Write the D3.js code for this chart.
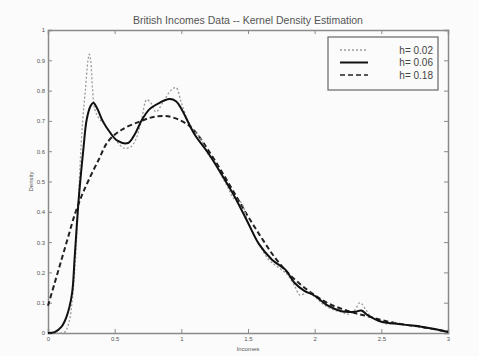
<!DOCTYPE html>
<html>
<head>
<meta charset="utf-8">
<script src="https://cdn.jsdelivr.net/npm/d3@7"></script>
<style>
  body { margin: 0; background: #fafbfa; }
  svg { font-family: "Liberation Sans", Arial, sans-serif; }
</style>
</head>
<body>
<div id="chartdiv"></div>
<script>
// h = 0.02 (dotted)
const xFine = [0, 0.1, 0.13, 0.16, 0.18, 0.2, 0.22, 0.24, 0.26, 0.28, 0.3, 0.31, 0.32, 0.335, 0.35, 0.38, 0.42, 0.47, 0.52, 0.57, 0.62, 0.66, 0.7, 0.74, 0.77, 0.81, 0.86, 0.92, 0.96, 1.0, 1.05, 1.1, 1.14, 1.2, 1.25, 1.3, 1.35, 1.39, 1.45, 1.5, 1.55, 1.6, 1.65, 1.7, 1.75, 1.8, 1.85, 1.89, 1.95, 2.0, 2.05, 2.1, 2.15, 2.2, 2.25, 2.3, 2.34, 2.38, 2.42, 2.5, 2.55, 2.6, 2.7, 2.8, 2.9, 3.0];
const yFine = [0, 0, 0.005, 0.04, 0.1, 0.2, 0.36, 0.55, 0.7, 0.8, 0.9, 0.92, 0.9, 0.8, 0.74, 0.71, 0.69, 0.66, 0.63, 0.61, 0.614, 0.64, 0.7, 0.77, 0.76, 0.73, 0.76, 0.8, 0.81, 0.76, 0.7, 0.665, 0.645, 0.59, 0.565, 0.52, 0.48, 0.445, 0.43, 0.365, 0.32, 0.28, 0.245, 0.225, 0.21, 0.19, 0.155, 0.125, 0.135, 0.12, 0.1, 0.085, 0.075, 0.07, 0.062, 0.075, 0.1, 0.08, 0.055, 0.036, 0.03, 0.033, 0.025, 0.02, 0.012, 0.003];

// h = 0.06 (solid)
const xMid = [0, 0.05, 0.1, 0.14, 0.18, 0.2, 0.23, 0.265, 0.29, 0.32, 0.34, 0.37, 0.41, 0.46, 0.52, 0.6, 0.65, 0.7, 0.76, 0.83, 0.91, 0.96, 1.0, 1.1, 1.2, 1.3, 1.4, 1.5, 1.58, 1.68, 1.78, 1.85, 1.92, 2.0, 2.1, 2.2, 2.3, 2.35, 2.4, 2.5, 2.6, 2.7, 2.8, 2.9, 3.0];
const yMid = [0, 0.003, 0.02, 0.055, 0.13, 0.25, 0.44, 0.605, 0.704, 0.75, 0.76, 0.74, 0.7, 0.665, 0.635, 0.627, 0.655, 0.7, 0.738, 0.758, 0.772, 0.765, 0.74, 0.655, 0.595, 0.525, 0.45, 0.364, 0.295, 0.242, 0.209, 0.165, 0.14, 0.123, 0.09, 0.072, 0.07, 0.074, 0.058, 0.037, 0.031, 0.026, 0.021, 0.013, 0.003];

// h = 0.18 (dashed)
const xWide = [0, 0.05, 0.1, 0.15, 0.2, 0.25, 0.3, 0.38, 0.45, 0.55, 0.7, 0.8, 0.9, 1.0, 1.07, 1.13, 1.2, 1.3, 1.4, 1.5, 1.6, 1.7, 1.8, 1.9, 2.0, 2.1, 2.2, 2.3, 2.4, 2.5, 2.6, 2.7, 2.8, 2.9, 3.0];
const yWide = [0.09, 0.165, 0.24, 0.315, 0.39, 0.45, 0.5, 0.572, 0.632, 0.67, 0.7, 0.714, 0.715, 0.7, 0.68, 0.65, 0.605, 0.535, 0.46, 0.385, 0.315, 0.25, 0.198, 0.158, 0.125, 0.098, 0.08, 0.066, 0.055, 0.043, 0.033, 0.026, 0.02, 0.012, 0.004];

const legendLabels = ["h= 0.02", "h= 0.06", "h= 0.18"];
const xTicks = [0, 0.5, 1, 1.5, 2, 2.5, 3];
const yTicks = [0, 0.1, 0.2, 0.3, 0.4, 0.5, 0.6, 0.7, 0.8, 0.9, 1];

const margin = { top: 30, right: 31, bottom: 23, left: 48 };
const W = 479, H = 356;
const width = W - margin.left - margin.right;
const height = H - margin.top - margin.bottom;

const svg = d3.select("#chartdiv").append("svg")
  .attr("width", W)
  .attr("height", H);

const g = svg.append("g")
  .attr("transform", "translate(" + margin.left + "," + margin.top + ")");

const x = d3.scaleLinear().domain([0, 3]).range([0, width]);
const y = d3.scaleLinear().domain([0, 1]).range([height, 0]);

const axisColor = "#8a8a8a";
const fmt = d => d3.format("")(d);

// axes, ticks pointing inward (box style)
const axes = [
  g.append("g").attr("transform", "translate(0," + height + ")")
    .call(d3.axisBottom(x).tickValues(xTicks).tickSize(-4).tickPadding(4).tickFormat(fmt)),
  g.append("g")
    .call(d3.axisTop(x).tickValues(xTicks).tickSize(-4).tickFormat("")),
  g.append("g")
    .call(d3.axisLeft(y).tickValues(yTicks).tickSize(-4).tickPadding(3).tickFormat(fmt)),
  g.append("g").attr("transform", "translate(" + width + ",0)")
    .call(d3.axisRight(y).tickValues(yTicks).tickSize(-4).tickFormat(""))
];
axes.forEach(a => {
  a.select(".domain").attr("stroke", axisColor).attr("stroke-width", 1.5);
  a.selectAll(".tick line").attr("stroke", axisColor);
  a.selectAll(".tick text").attr("fill", "#555").style("font-size", "6px");
});

const line = (xs, ys) => d3.line()
  .x(i => x(xs[i]))
  .y(i => y(ys[i]))
  .curve(d3.curveCatmullRom.alpha(0.5))(d3.range(xs.length));

g.append("path")
  .attr("d", line(xWide, yWide))
  .attr("fill", "none")
  .attr("stroke", "#222")
  .attr("stroke-width", 2)
  .attr("stroke-dasharray", "5,3");

g.append("path")
  .attr("d", line(xFine, yFine))
  .attr("fill", "none")
  .attr("stroke", "#9a9a9a")
  .attr("stroke-width", 1.3)
  .attr("stroke-dasharray", "2,2");

g.append("path")
  .attr("d", line(xMid, yMid))
  .attr("fill", "none")
  .attr("stroke", "#111")
  .attr("stroke-width", 2);

// title and axis labels
svg.append("text")
  .attr("x", margin.left + width / 2).attr("y", 24)
  .attr("text-anchor", "middle")
  .attr("fill", "#555")
  .style("font-size", "10.5px")
  .text("British Incomes Data -- Kernel Density Estimation");

svg.append("text")
  .attr("x", margin.left + width / 2).attr("y", 351)
  .attr("text-anchor", "middle")
  .attr("fill", "#555")
  .style("font-size", "6px")
  .text("Incomes");

svg.append("text")
  .attr("transform", "translate(33," + (margin.top + height / 2) + ") rotate(-90)")
  .attr("text-anchor", "middle")
  .attr("fill", "#555")
  .style("font-size", "6px")
  .text("Density");

// legend
const legend = svg.append("g");
legend.append("rect")
  .attr("x", 328).attr("y", 37).attr("width", 110).attr("height", 53)
  .attr("fill", "#fafbfa").attr("stroke", "#666").attr("stroke-width", 1.2);

const styles = [
  { stroke: "#9a9a9a", w: 1.3, dash: "2,2" },
  { stroke: "#111", w: 2, dash: null },
  { stroke: "#222", w: 1.6, dash: "5,3" }
];
legendLabels.forEach((lab, i) => {
  const ly = 50 + i * 12.5;
  legend.append("line")
    .attr("x1", 340).attr("x2", 368).attr("y1", ly).attr("y2", ly)
    .attr("stroke", styles[i].stroke)
    .attr("stroke-width", styles[i].w)
    .attr("stroke-dasharray", styles[i].dash);
  legend.append("text")
    .attr("x", 433).attr("y", ly + 3.5)
    .attr("text-anchor", "end")
    .attr("fill", "#444")
    .style("font-size", "10px")
    .text(lab);
});
</script>
</body>
</html>
